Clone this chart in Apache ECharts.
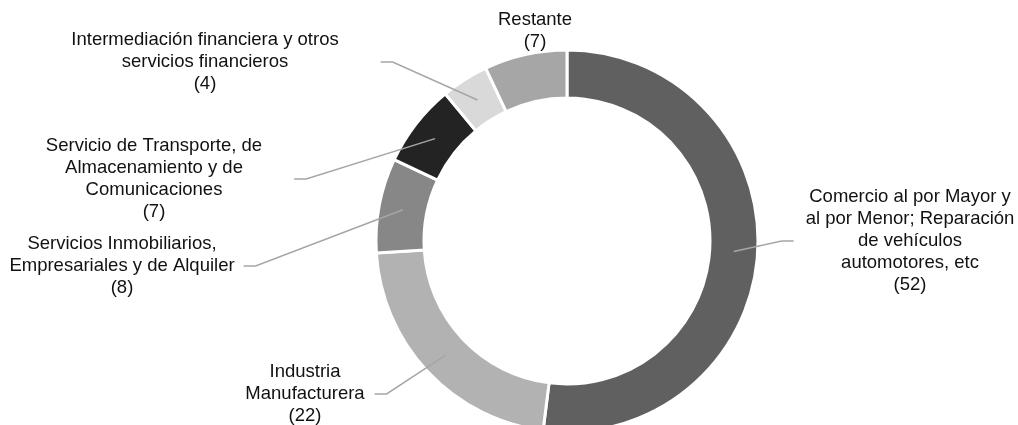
<!DOCTYPE html>
<html>
<head>
<meta charset="utf-8">
<script src="https://cdn.jsdelivr.net/npm/echarts@6/dist/echarts.min.js"></script>
<style>
  html, body { margin: 0; padding: 0; background: #fff; }
  #chart { width: 1018px; height: 425px; }
</style>
</head>
<body>
<div id="chart"></div>
<script>
// sectors, clockwise from 12 o'clock
const categories = [
  'Comercio al por Mayor y\nal por Menor; Reparación\nde vehículos\nautomotores, etc',
  'Industria\nManufacturera',
  'Servicios Inmobiliarios,\nEmpresariales y de Alquiler',
  'Servicio de Transporte, de\nAlmacenamiento y de\nComunicaciones',
  'Intermediación financiera y otros\nservicios financieros',
  'Restante'
]
const values = [52, 22, 8, 7, 4, 7]
const colors = ['#606060', '#b2b2b2', '#878787', '#232323', '#d9d9d9', '#a6a6a6']

// label block centre [x, y] and gap between text and leader end (null = no leader)
const labelSpots = [[910, 241, 12], [305, 394, 10], [122, 266, 9], [154, 179, 32], [205, 62, 42], [535, 31, null]]

const CX = 567, CY = 241, R0 = 143, R = 191
const midR = (R0 + R) / 2
const FONT = 18.5
const FAMILY = 'Liberation Sans, Arial, sans-serif'

const chart = echarts.init(document.getElementById('chart'), null, { renderer: 'canvas' })

const total = values.reduce((a, b) => a + b, 0)
const midAngle = i => {
  let cum = 0
  for (let k = 0; k < i; k++) cum += values[k]
  return (90 - 360 * (cum + values[i] / 2) / total) * Math.PI / 180
}

const ctx = document.createElement('canvas').getContext('2d')
ctx.font = FONT + 'px ' + FAMILY
const labelWidth = i => Math.max(...(categories[i] + '\n(' + values[i] + ')').split('\n').map(t => ctx.measureText(t).width))

chart.setOption({
  animation: false,
  series: [{
    type: 'pie',
    center: [CX, CY],
    radius: [R0, R],
    startAngle: 90,
    clockwise: true,
    avoidLabelOverlap: false,
    itemStyle: { borderColor: '#fff', borderWidth: 3 },
    label: {
      show: true,
      position: 'outside',
      fontFamily: FAMILY,
      fontSize: FONT,
      lineHeight: 22,
      color: '#111',
      align: 'center',
      formatter: p => p.name + '\n(' + p.value + ')'
    },
    labelLine: { show: false },
    labelLayout: params => {
      const s = labelSpots[params.dataIndex]
      return { x: s[0], y: s[1], align: 'center', verticalAlign: 'middle' }
    },
    data: categories.map((c, i) => ({ name: c, value: values[i], itemStyle: { color: colors[i] } }))
  }, {
    // leader lines: from the middle of the ring to the label
    type: 'custom',
    coordinateSystem: 'none',
    silent: true,
    z: 5,
    data: values,
    renderItem: (params, api) => {
      const i = params.dataIndex
      const s = labelSpots[i]
      if (s[2] == null) return null
      const a = midAngle(i)
      const start = [CX + Math.cos(a) * midR, CY - Math.sin(a) * midR]
      const w = labelWidth(i)
      const right = s[0] > CX
      const endX = right ? s[0] - w / 2 - s[2] : s[0] + w / 2 + s[2]
      const bendX = right ? endX - 12 : endX + 12
      return {
        type: 'polyline',
        shape: { points: [start, [bendX, s[1]], [endX, s[1]]] },
        style: { stroke: '#a6a6a6', lineWidth: 1.5, fill: null }
      }
    }
  }]
})
</script>
</body>
</html>
